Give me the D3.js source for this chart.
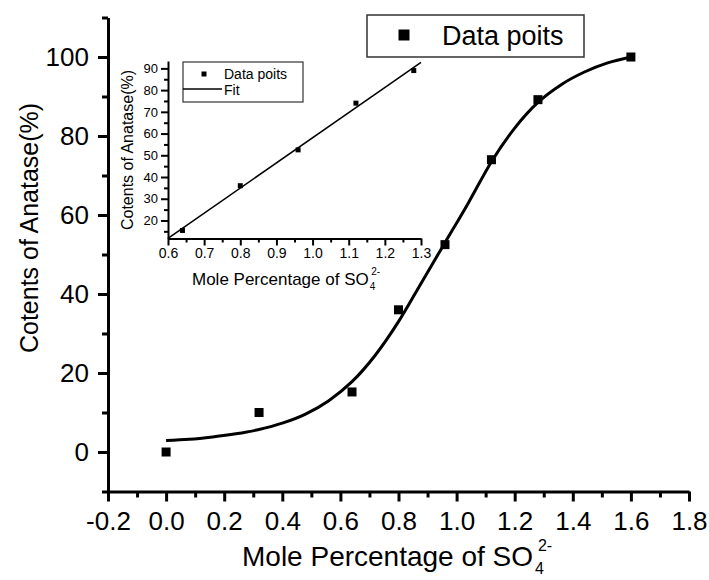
<!doctype html><html><head><meta charset="utf-8"><style>body{margin:0;background:#fff}text{font-family:"Liberation Sans",Arial,sans-serif;fill:#000}</style></head><body><script src='https://d3js.org/d3.v7.min.js'></script>

<script>
  // main chart data
  const xs = [0, 0.32, 0.64, 0.8, 0.96, 1.12, 1.28, 1.6];
  const ys = [0, 10, 15.2, 36, 52.5, 74, 89.2, 100];
  const fitX = [0, 0.08, 0.16, 0.24, 0.32, 0.40, 0.48, 0.56, 0.64, 0.72, 0.80, 0.88, 0.96, 1.04, 1.12, 1.20, 1.28, 1.36, 1.44, 1.52, 1.60];
  const fitY = [2.9, 3.2, 3.8, 4.6, 5.7, 7.3, 9.6, 13.0, 17.8, 24.5, 33, 43, 53, 63, 73.5, 82, 88.5, 93, 96.2, 98.5, 100];
  const xTicks = [-0.2, 0, 0.2, 0.4, 0.6, 0.8, 1.0, 1.2, 1.4, 1.6, 1.8];
  const yTicks = [0, 20, 40, 60, 80, 100];

  // inset data
  const inX = [0.64, 0.8, 0.96, 1.12, 1.28];
  const inY = [15.4, 36, 52.5, 74, 89];
  const inFitX = [0.6, 1.3];
  const inFitY = [11.8, 92.8];
  const inXTicks = [0.6, 0.7, 0.8, 0.9, 1.0, 1.1, 1.2, 1.3];
  const inYTicks = [20, 30, 40, 50, 60, 70, 80, 90];

  const width = 709, height = 580;
  const fmt1 = d => d.toFixed(1);   // plain hyphen for negatives, like the original

  var svg = d3.select("body").append("svg")
    .attr("width", width)
    .attr("height", height);

  var x = d3.scaleLinear().domain([-0.2, 1.8]).range([108, 689]);
  var y = d3.scaleLinear().domain([-10, 110]).range([491.5, 17.5]);

  // minor ticks
  var xMinor = d3.range(-0.1, 1.8, 0.2);
  var yMinor = d3.range(-10, 111, 20);

  svg.append("g")
    .attr("transform", "translate(0," + y(-10) + ")")
    .call(d3.axisBottom(x).tickValues(xMinor).tickSize(6).tickFormat(""))
    .call(g => g.select(".domain").remove())
    .selectAll("line").attr("stroke-width", 3);

  svg.append("g")
    .attr("transform", "translate(" + x(-0.2) + ",0)")
    .call(d3.axisLeft(y).tickValues(yMinor).tickSize(6).tickFormat(""))
    .call(g => g.select(".domain").remove())
    .selectAll("line").attr("stroke-width", 3);

  var gx = svg.append("g")
    .attr("transform", "translate(0," + y(-10) + ")")
    .call(d3.axisBottom(x).tickValues(xTicks).tickSize(10).tickSizeOuter(0).tickPadding(10).tickFormat(fmt1));
  gx.select(".domain").attr("stroke-width", 3);
  gx.selectAll("line").attr("stroke-width", 3);
  gx.selectAll("text").attr("font-size", 26).style("font-family", "Liberation Sans, Arial");

  var gy = svg.append("g")
    .attr("transform", "translate(" + x(-0.2) + ",0)")
    .call(d3.axisLeft(y).tickValues(yTicks).tickSize(10).tickSizeOuter(0).tickPadding(9));
  gy.select(".domain").attr("stroke-width", 3);
  gy.selectAll("line").attr("stroke-width", 3);
  gy.selectAll("text").attr("font-size", 26).style("font-family", "Liberation Sans, Arial");

  // fit curve
  var line = d3.line().curve(d3.curveMonotoneX).x(d => x(d[0])).y(d => y(d[1]));
  svg.append("path")
    .datum(fitX.map((d, i) => [d, fitY[i]]))
    .attr("d", line)
    .attr("fill", "none")
    .attr("stroke", "#000")
    .attr("stroke-width", 3);

  // data squares
  svg.selectAll("rect.pt")
    .data(xs)
    .enter()
    .append("rect")
    .attr("class", "pt")
    .attr("x", (d) => x(d) - 4.5)
    .attr("y", (d, i) => y(ys[i]) - 4.5)
    .attr("width", 9)
    .attr("height", 9)
    .attr("fill", "#000");

  // axis titles
  svg.append("text")
    .attr("transform", "translate(38,228) rotate(-90)")
    .attr("text-anchor", "middle")
    .attr("font-size", 25)
    .text("Cotents of Anatase(%)");

  var xt = svg.append("text")
    .attr("x", 242)
    .attr("y", 566)
    .attr("font-size", 28);
  xt.append("tspan").text("Mole Percentage of SO");
  xt.append("tspan").attr("font-size", 16).attr("dx", 2).attr("dy", 8).text("4");
  xt.append("tspan").attr("font-size", 16).attr("dx", -6).attr("dy", -23).text("2-");

  // legend
  svg.append("rect")
    .attr("x", 367).attr("y", 15).attr("width", 217).attr("height", 42)
    .attr("fill", "#fff").attr("stroke", "#333").attr("stroke-width", 1.5);
  svg.append("rect")
    .attr("x", 398.5).attr("y", 29.5).attr("width", 11).attr("height", 11)
    .attr("fill", "#000");
  svg.append("text")
    .attr("x", 442).attr("y", 45)
    .attr("font-size", 27)
    .text("Data poits");

  // ---------------- inset ----------------
  var ix = d3.scaleLinear().domain([0.6, 1.3]).range([168, 421]);
  var iy = d3.scaleLinear().domain([11.7, 93.4]).range([238.5, 61]);

  var ixMinor = d3.range(0.65, 1.3, 0.1);
  var iyMinor = d3.range(15, 94, 10);

  svg.append("g")
    .attr("transform", "translate(0," + iy(11.7) + ")")
    .call(d3.axisBottom(ix).tickValues(ixMinor).tickSize(4).tickFormat(""))
    .call(g => g.select(".domain").remove())
    .selectAll("line").attr("stroke-width", 2);

  svg.append("g")
    .attr("transform", "translate(" + ix(0.6) + ",0)")
    .call(d3.axisLeft(iy).tickValues(iyMinor).tickSize(4).tickFormat(""))
    .call(g => g.select(".domain").remove())
    .selectAll("line").attr("stroke-width", 2);

  var igx = svg.append("g")
    .attr("transform", "translate(0," + iy(11.7) + ")")
    .call(d3.axisBottom(ix).tickValues(inXTicks).tickSize(7).tickSizeOuter(0).tickPadding(3).tickFormat(fmt1));
  igx.select(".domain").attr("stroke-width", 2);
  igx.selectAll("line").attr("stroke-width", 2);
  igx.selectAll("text").attr("font-size", 14).style("font-family", "Liberation Sans, Arial");

  var igy = svg.append("g")
    .attr("transform", "translate(" + ix(0.6) + ",0)")
    .call(d3.axisLeft(iy).tickValues(inYTicks).tickSize(7).tickSizeOuter(0).tickPadding(3));
  igy.select(".domain").attr("stroke-width", 2);
  igy.selectAll("line").attr("stroke-width", 2);
  igy.selectAll("text").attr("font-size", 13).style("font-family", "Liberation Sans, Arial");

  svg.append("path")
    .datum(inFitX.map((d, i) => [d, inFitY[i]]))
    .attr("d", d3.line().x(d => ix(d[0])).y(d => iy(d[1])))
    .attr("fill", "none")
    .attr("stroke", "#000")
    .attr("stroke-width", 1.5);

  svg.selectAll("rect.ipt")
    .data(inX)
    .enter()
    .append("rect")
    .attr("class", "ipt")
    .attr("x", (d) => ix(d) - 2.5)
    .attr("y", (d, i) => iy(inY[i]) - 2.5)
    .attr("width", 5)
    .attr("height", 5)
    .attr("fill", "#000");

  svg.append("text")
    .attr("transform", "translate(133,150) rotate(-90)")
    .attr("text-anchor", "middle")
    .attr("font-size", 16)
    .text("Cotents of Anatase(%)");

  var ixt = svg.append("text")
    .attr("x", 192)
    .attr("y", 285)
    .attr("font-size", 17);
  ixt.append("tspan").text("Mole Percentage of SO");
  ixt.append("tspan").attr("font-size", 10).attr("dx", 1).attr("dy", 5).text("4");
  ixt.append("tspan").attr("font-size", 10).attr("dx", -4).attr("dy", -15).text("2-");

  // inset legend
  svg.append("rect")
    .attr("x", 183).attr("y", 62).attr("width", 120).attr("height", 40)
    .attr("fill", "#fff").attr("stroke", "#333").attr("stroke-width", 1.2);
  svg.append("rect")
    .attr("x", 201.5).attr("y", 71.5).attr("width", 5).attr("height", 5)
    .attr("fill", "#000");
  svg.append("text").attr("x", 224).attr("y", 79).attr("font-size", 14).text("Data poits");
  svg.append("line")
    .attr("x1", 183).attr("x2", 222).attr("y1", 89).attr("y2", 89)
    .attr("stroke", "#000").attr("stroke-width", 1.5);
  svg.append("text").attr("x", 224).attr("y", 95).attr("font-size", 14).text("Fit");

</script></body></html>
